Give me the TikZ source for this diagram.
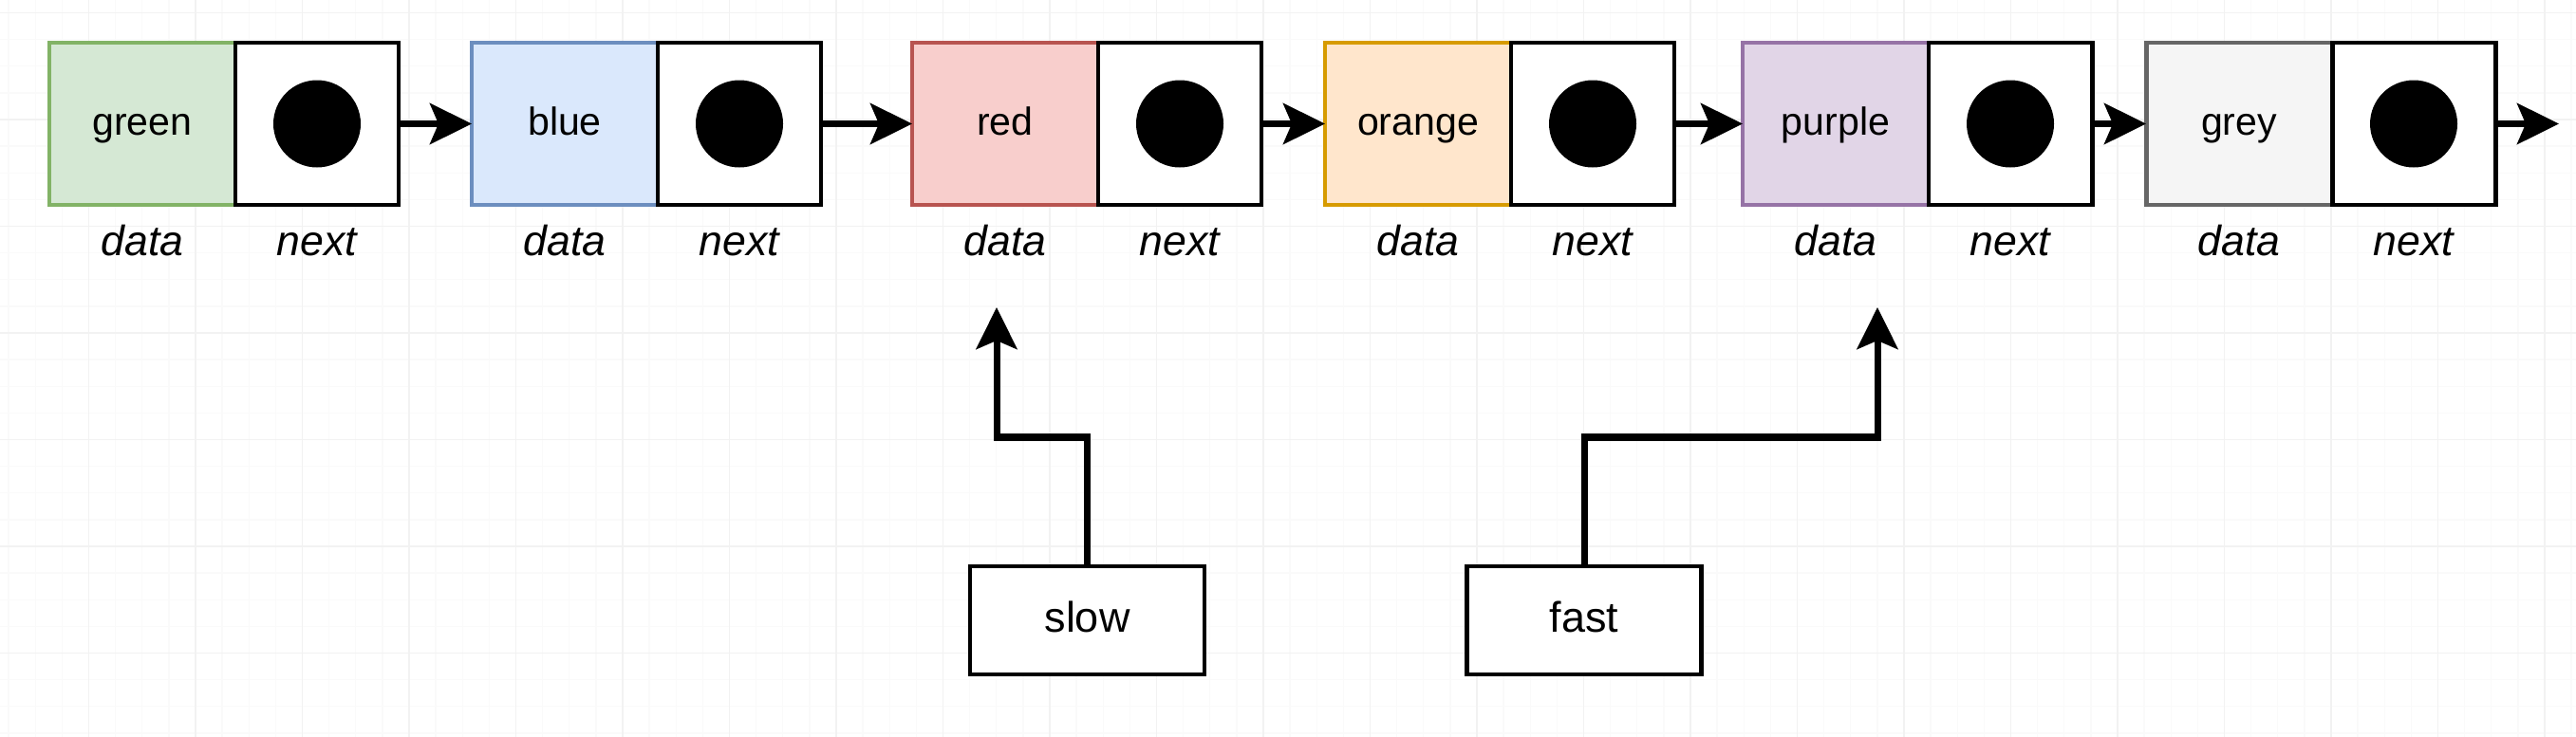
\documentclass[tikz,border=0pt]{standalone}
\usepackage{fontspec}
\setmainfont{Liberation Sans}
\usepackage{xcolor}
\usepackage{tikz}
\usetikzlibrary{arrows.meta, positioning}
\definecolor{greenfill}{HTML}{D5E8D4}
\definecolor{greenline}{HTML}{82B366}
\definecolor{bluefill}{HTML}{DAE8FC}
\definecolor{blueline}{HTML}{6C8EBF}
\definecolor{redfill}{HTML}{F8CECC}
\definecolor{redline}{HTML}{B85450}
\definecolor{orangefill}{HTML}{FFE6CC}
\definecolor{orangeline}{HTML}{D79B00}
\definecolor{purplefill}{HTML}{E1D5E7}
\definecolor{purpleline}{HTML}{9673A6}
\definecolor{greyfill}{HTML}{F5F5F5}
\definecolor{greyline}{HTML}{666666}
\tikzset{
    base/.style={draw=black, line width=1.4pt, inner sep=0pt, outer sep=0pt, align=center},
    datacell/.style={base, rectangle, minimum width=1.96cm, minimum height=1.71cm, text height=0.9em, text depth=0.19em, font=\fontsize{11.7}{14}\selectfont},
    nextcell/.style={base, rectangle, minimum width=1.72cm, minimum height=1.71cm, fill=white},
    fieldname/.style={inner sep=0pt, text height=0.75em, text depth=0.2em, font=\fontsize{12.7}{15}\selectfont\itshape},
    pointer/.style={base, rectangle, minimum width=2.47cm, minimum height=1.14cm, fill=white, text height=0.9em, text depth=0.19em, font=\fontsize{12.8}{15}\selectfont},
    line/.style={draw=black, line width=2pt, -{Stealth[length=0.44cm, width=0.43cm, inset=0.09cm]}},
    majorgrid/.style={draw=black!5, line width=0.5pt},
    minorgrid/.style={draw=black!2, line width=0.4pt}
}
\begin{document}
\begin{tikzpicture}
    % canvas with the editor grid
    \path [fill=white, use as bounding box] (0,0) rectangle (27.14,-7.76);
    \begin{scope}
        \clip (0,0) rectangle (27.14,-7.76);
        \draw [minorgrid, step=0.28125, xshift=0.935cm, yshift=-0.135cm] (-1,1) grid (27,-9);
        \draw [majorgrid, step=1.125, xshift=0.935cm, yshift=-0.135cm] (-1,1) grid (27,-9);
    \end{scope}

    % the list
    \node [datacell, fill=greenfill, draw=greenline] (GreenData) at (1.50,-1.305) {green};
    \node [nextcell, right=0pt of GreenData] (GreenNext) {};
    \node [datacell, fill=bluefill, draw=blueline, right=0.77cm of GreenNext] (BlueData) {blue};
    \node [nextcell, right=0pt of BlueData] (BlueNext) {};
    \node [datacell, fill=redfill, draw=redline, right=0.96cm of BlueNext] (RedData) {red};
    \node [nextcell, right=0pt of RedData] (RedNext) {};
    \node [datacell, fill=orangefill, draw=orangeline, right=0.67cm of RedNext] (OrangeData) {orange};
    \node [nextcell, right=0pt of OrangeData] (OrangeNext) {};
    \node [datacell, fill=purplefill, draw=purpleline, right=0.72cm of OrangeNext] (PurpleData) {purple};
    \node [nextcell, right=0pt of PurpleData] (PurpleNext) {};
    \node [datacell, fill=greyfill, draw=greyline, right=0.57cm of PurpleNext] (GreyData) {grey};
    \node [nextcell, right=0pt of GreyData] (GreyNext) {};
    \coordinate [right=0.67cm of GreyNext] (Tail);

    \fill (GreenNext) circle [radius=0.46cm];
    \fill (BlueNext) circle [radius=0.46cm];
    \fill (RedNext) circle [radius=0.46cm];
    \fill (OrangeNext) circle [radius=0.46cm];
    \fill (PurpleNext) circle [radius=0.46cm];
    \fill (GreyNext) circle [radius=0.46cm];

    \draw [line] (GreenNext) -- (BlueData);
    \draw [line] (BlueNext) -- (RedData);
    \draw [line] (RedNext) -- (OrangeData);
    \draw [line] (OrangeNext) -- (PurpleData);
    \draw [line] (PurpleNext) -- (GreyData);
    \draw [line] (GreyNext) -- (Tail);

    \node [fieldname, below=0.26cm of GreenData] (GreenDataTag) {data};
    \node [fieldname, below=0.26cm of GreenNext] (GreenNextTag) {next};
    \node [fieldname, below=0.26cm of BlueData] (BlueDataTag) {data};
    \node [fieldname, below=0.26cm of BlueNext] (BlueNextTag) {next};
    \node [fieldname, below=0.26cm of RedData] (RedDataTag) {data};
    \node [fieldname, below=0.26cm of RedNext] (RedNextTag) {next};
    \node [fieldname, below=0.26cm of OrangeData] (OrangeDataTag) {data};
    \node [fieldname, below=0.26cm of OrangeNext] (OrangeNextTag) {next};
    \node [fieldname, below=0.26cm of PurpleData] (PurpleDataTag) {data};
    \node [fieldname, below=0.26cm of PurpleNext] (PurpleNextTag) {next};
    \node [fieldname, below=0.26cm of GreyData] (GreyDataTag) {data};
    \node [fieldname, below=0.26cm of GreyNext] (GreyNextTag) {next};

    % slow and fast pointers
    \node [pointer] (Slow) at (11.455,-6.54) {slow};
    \node [pointer] (Fast) at (16.69,-6.54) {fast};
    \coordinate (SlowTip) at (10.50,-3.24);
    \coordinate (FastTip) at (19.78,-3.24);
    \draw [line] (Slow.north) -- ++(0,1.36) -| (SlowTip);
    \draw [line] (Fast.north) -- ++(0,1.36) -| (FastTip);
\end{tikzpicture}
\end{document}
